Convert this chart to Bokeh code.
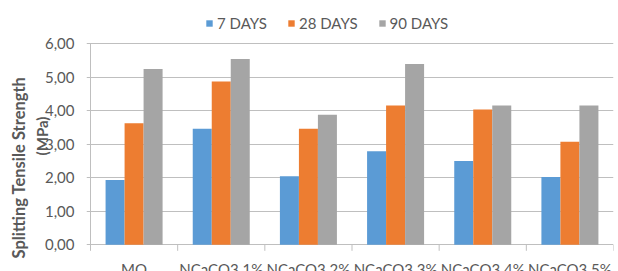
from bokeh.plotting import figure
from bokeh.models import (Range1d, FixedTicker, CustomJSTickFormatter,
                          Legend, LegendItem, Title)
from bokeh.core.properties import value
from bokeh.embed import file_html
from bokeh.resources import INLINE

categories = ["MO", "NCaCO3 1%", "NCaCO3 2%", "NCaCO3 3%", "NCaCO3 4%", "NCaCO3 5%"]
days_7 = [1.93, 3.46, 2.04, 2.79, 2.50, 2.02]
days_28 = [3.62, 4.87, 3.46, 4.15, 4.03, 3.07]
days_90 = [5.24, 5.54, 3.88, 5.39, 4.15, 4.15]
series_names = ["7 DAYS", "28 DAYS", "90 DAYS"]
series_colors = ["#5B9BD5", "#ED7D31", "#A5A5A5"]
y_ticks = [0, 1, 2, 3, 4, 5, 6]
y_title_1 = "Splitting Tensile Strength"
y_title_2 = "(MPa)"

FONT = "Lato"
TXT = "#595959"
GRID = "#bfbfbf"

n = len(categories)
W, H = 618, 271
LEFT, RIGHT = 86, 5           # frame borders (px)
X0_PX = 4                     # gap between frame edge and x=0 (px)
TOP_PX, ZERO_PX = 43, 244.3   # pixel rows of y=6 and y=0
ppu_y = (ZERO_PX - TOP_PX) / y_ticks[-1]
ppu_x = (W - RIGHT - LEFT - X0_PX) / n

y_start = -(H - ZERO_PX) / ppu_y
y_end = y_ticks[-1] + TOP_PX / ppu_y

p = figure(width=W, height=H, output_backend="svg", toolbar_location=None,
           x_range=Range1d(-X0_PX / ppu_x, n),
           y_range=Range1d(y_start, y_end),
           min_border_left=LEFT, min_border_right=RIGHT, min_border_top=0,
           min_border_bottom=0)
p.outline_line_color = None
p.background_fill_color = "white"

bar_w = 0.218
renderers = []
for j, (vals, col) in enumerate(zip([days_7, days_28, days_90], series_colors)):
    xs = [i + 0.5 + (j - 1) * bar_w for i in range(n)]
    r = p.vbar(x=xs, top=vals, bottom=0, width=bar_w, fill_color=col,
               line_color=None)
    renderers.append(r)

# y axis (left panel)
ya = p.yaxis[0]
ya.ticker = FixedTicker(ticks=y_ticks)
ya.formatter = CustomJSTickFormatter(code="return tick.toFixed(2).replace('.', ',');")
ya.axis_line_color = None
ya.major_tick_line_color = None
ya.minor_tick_line_color = None
ya.major_tick_out = 0
ya.major_tick_in = 0
ya.major_label_standoff = 12
ya.major_label_text_font = FONT
ya.major_label_text_font_size = "15px"
ya.major_label_text_color = TXT
ya.axis_label = y_title_2
ya.axis_label_text_font = FONT
ya.axis_label_text_font_style = "bold"
ya.axis_label_text_font_size = "15px"
ya.axis_label_text_color = TXT
ya.axis_label_standoff = -9

# first line of the y title, outside the axis panel
p.add_layout(Title(text=y_title_1, align="left", offset=13, standoff=0,
                   vertical_align="middle", text_font=FONT,
                   text_font_style="bold", text_font_size="16.5px",
                   text_color=TXT), "left")

p.xaxis.visible = False
p.xgrid.visible = False
p.ygrid.grid_line_color = GRID

# vertical axis line and category boundary ticks
p.segment(x0=[0], y0=[y_ticks[0]], x1=[0], y1=[y_ticks[-1]], line_color=GRID, line_width=1)
bounds_x = list(range(n + 1))
p.segment(x0=bounds_x, y0=[0] * (n + 1), x1=bounds_x, y1=[-6 / ppu_y] * (n + 1),
          line_color=GRID, line_width=1)

# category labels
p.text(x=[i + 0.5 for i in range(n)], y=[-15 / ppu_y] * n, text=categories,
       text_align="center", text_baseline="top", text_font=value(FONT),
       text_font_size="15px", text_color=TXT)

legend = Legend(items=[LegendItem(label=s, renderers=[r]) for s, r in zip(series_names, renderers)],
                orientation="horizontal", location=(205 - LEFT, H - 32), padding=0, margin=0,
                spacing=20, label_standoff=4, glyph_width=8, glyph_height=8,
                border_line_color=None, background_fill_alpha=0,
                label_text_font=FONT, label_text_font_size="15px",
                label_text_color=TXT)
p.add_layout(legend)

open("out.html", "w").write(file_html(p, INLINE))
